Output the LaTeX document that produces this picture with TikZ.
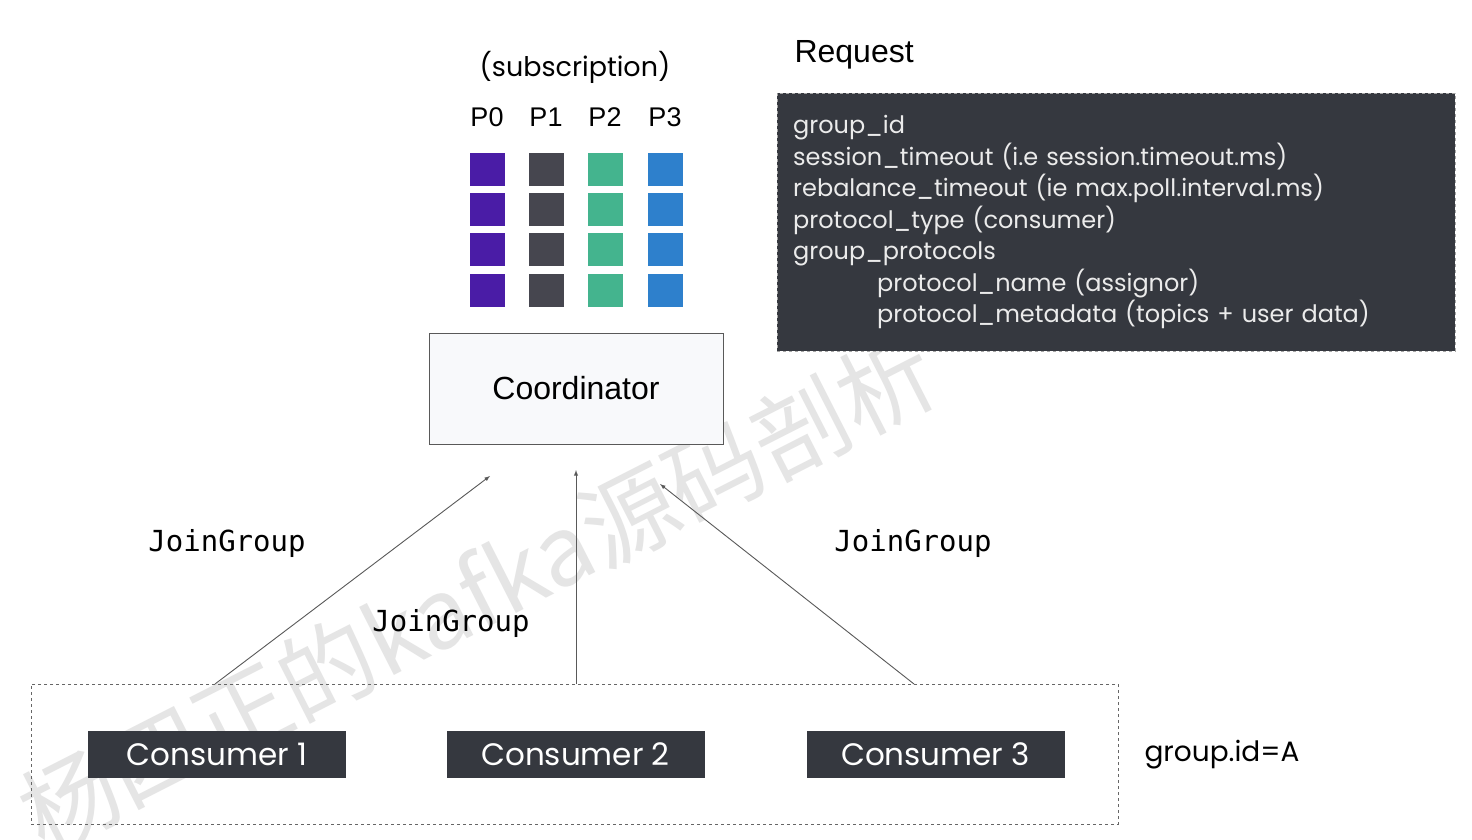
\documentclass[tikz,border=0pt]{standalone}
\usepackage{fontspec}
\setmainfont{Liberation Sans}
\newfontfamily\popfont{Poppins}
\newfontfamily\jgmono{DejaVu Sans Mono}
\newfontfamily\cjkfont{Noto Sans CJK SC}
\definecolor{darkbox}{HTML}{35383F}
\definecolor{pzero}{HTML}{4A1CA6}
\definecolor{pone}{HTML}{46464F}
\definecolor{ptwo}{HTML}{44B48E}
\definecolor{pthree}{HTML}{2E80CC}
\definecolor{coordfill}{HTML}{F8F9FB}
\begin{document}
\begin{tikzpicture}[>=latex, x=1pt, y=-1pt,
    part/.style={rectangle, minimum width=35pt, minimum height=33pt, inner sep=0pt},
    consumer/.style={rectangle, fill=darkbox, text=white, minimum width=258pt, minimum height=47pt,
        font=\popfont\fontsize{31}{31}\selectfont},
    joinlbl/.style={font=\jgmono\fontsize{29}{29}\selectfont},
    flow/.style={->, draw=black!65, line width=0.9pt}]
    \useasboundingbox[fill=white] (0,0) rectangle (1472,840);
    \node[rotate=27, text=black!10, font=\cjkfont\fontsize{96}{96}\selectfont] (wm) at (478,592) {杨四正的kafka源码剖析};

    \node[font=\popfont\fontsize{27}{27}\selectfont] (sub) at (575,67) {(subscription)};
    \begin{scope}[every node/.style={font=\fontsize{27}{27}\selectfont}]
        \node (p0) at (487,117) {P0};
        \node (p1) at (546,117) {P1};
        \node (p2) at (605,117) {P2};
        \node (p3) at (665,117) {P3};
    \end{scope}
    \begin{scope}[every node/.style={part}]
        \node[fill=pzero] (a1) at (487,169) {};
        \node[fill=pzero] (a2) at (487,209) {};
        \node[fill=pzero] (a3) at (487,249) {};
        \node[fill=pzero] (a4) at (487,290) {};
        \node[fill=pone] (b1) at (546,169) {};
        \node[fill=pone] (b2) at (546,209) {};
        \node[fill=pone] (b3) at (546,249) {};
        \node[fill=pone] (b4) at (546,290) {};
        \node[fill=ptwo] (c1) at (605,169) {};
        \node[fill=ptwo] (c2) at (605,209) {};
        \node[fill=ptwo] (c3) at (605,249) {};
        \node[fill=ptwo] (c4) at (605,290) {};
        \node[fill=pthree] (d1) at (665,169) {};
        \node[fill=pthree] (d2) at (665,209) {};
        \node[fill=pthree] (d3) at (665,249) {};
        \node[fill=pthree] (d4) at (665,290) {};
    \end{scope}

    \node[draw=black!65, fill=coordfill, line width=1pt, minimum width=294pt, minimum height=111pt,
        font=\fontsize{32}{32}\selectfont] (coord) at (576,388.5) {Coordinator};

    \node[anchor=west, font=\fontsize{32}{32}\selectfont] (reqlbl) at (791,55) {Request};
    \node[draw=black!35, dashed, fill=darkbox, text=black!8, align=left, anchor=north west,
        text width=646pt, inner xsep=16pt, minimum height=258pt,
        font=\popfont\fontsize{24}{31.5}\selectfont] (req) at (777,93) {%
        group\_id\\
        session\_timeout (i.e session.timeout.ms)\\
        rebalance\_timeout (ie max.poll.interval.ms)\\
        protocol\_type (consumer)\\
        group\_protocols\\
        \hspace*{84pt}protocol\_name (assignor)\\
        \hspace*{84pt}protocol\_metadata (topics + user data)};

    \node[draw=black!60, dashed, minimum width=1087pt, minimum height=140pt] (grp) at (574.5,754) {};
    \node[consumer] (cons1) at (217,754.5) {Consumer 1};
    \node[consumer] (cons2) at (575.5,754.5) {Consumer 2};
    \node[consumer] (cons3) at (935.5,754.5) {Consumer 3};
    \node[anchor=west, font=\popfont\fontsize{28}{28}\selectfont] (gid) at (1141,755) {group.id=A};

    \coordinate (s1) at (215,684);
    \coordinate (s2) at (576,684);
    \coordinate (s3) at (914,684);
    \coordinate (e1) at (490,476);
    \coordinate (e2) at (576,470);
    \coordinate (e3) at (660,484);
    \draw[flow] (s1) -- (e1);
    \draw[flow] (s2) -- (e2);
    \draw[flow] (s3) -- (e3);

    \node[joinlbl] (j1) at (227,543) {JoinGroup};
    \node[joinlbl] (j2) at (451,623) {JoinGroup};
    \node[joinlbl] (j3) at (913,543) {JoinGroup};
\end{tikzpicture}
\end{document}
